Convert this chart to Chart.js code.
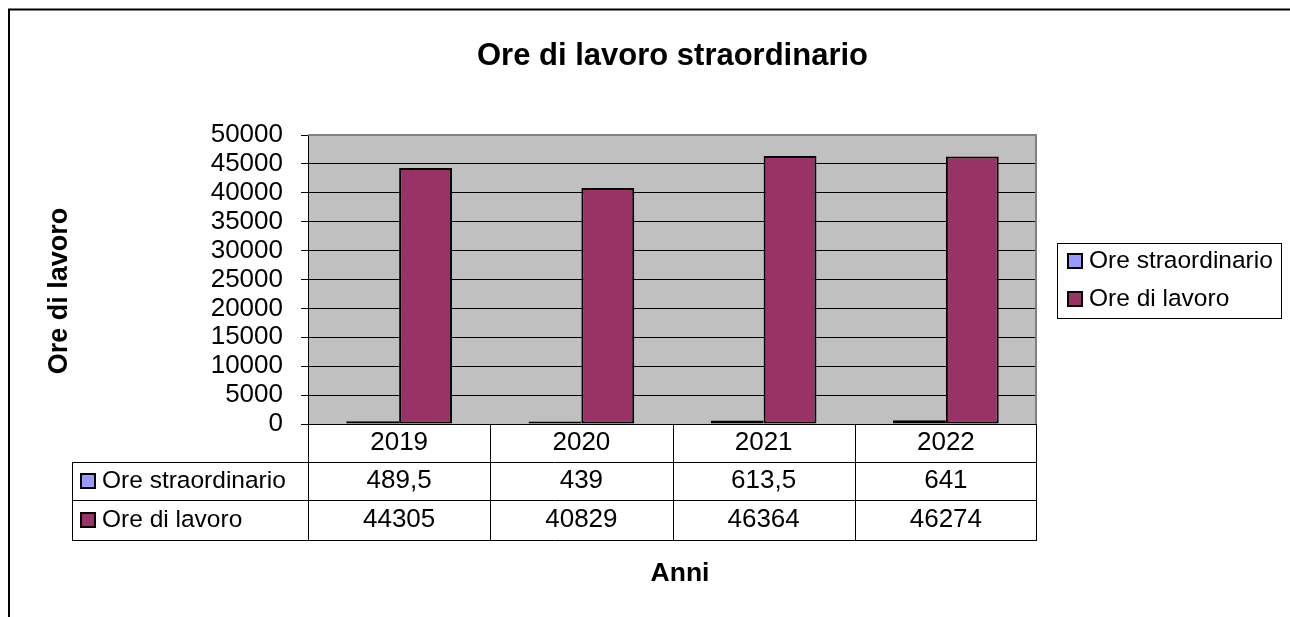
<!DOCTYPE html>
<html>
<head>
<meta charset="utf-8">
<script src="https://cdn.jsdelivr.net/npm/chart.js@4.4.0/dist/chart.umd.min.js"></script>
<style>
    body { margin: 0; background: #ffffff; }
    #grafico { display: block; }
</style>
</head>
<body>
<canvas id="grafico" width="1290" height="617"></canvas>
<script>
var anni = ["2019", "2020", "2021", "2022"];
var oreStraordinario = [489.5, 439, 613.5, 641];
var oreLavoro = [44305, 40829, 46364, 46274];

var nomiSerie = ["Ore straordinario", "Ore di lavoro"];
var coloriSerie = ["#9999FF", "#993366"];

var titolo = "Ore di lavoro straordinario";
var titoloY = "Ore di lavoro";
var titoloX = "Anni";

var FONT = "'Liberation Sans', Arial, sans-serif";

Chart.defaults.font.family = FONT;
Chart.defaults.color = "#000000";

function formatta(v) {
    return String(v).replace(".", ",");
}

// sfondo grigio dell'area del grafico
var sfondo = {
    id: "sfondo",
    beforeDraw: function (chart) {
        var ctx = chart.ctx;
        var a = chart.chartArea;
        ctx.save();
        ctx.fillStyle = "#C0C0C0";
        ctx.fillRect(a.left, a.top, a.right - a.left, a.bottom - a.top);
        ctx.restore();
    },
    beforeDatasetsDraw: function (chart) {
        var ctx = chart.ctx;
        var a = chart.chartArea;
        ctx.save();
        ctx.strokeStyle = "#808080";
        ctx.lineWidth = 2;
        ctx.beginPath();
        ctx.moveTo(a.left, a.top);
        ctx.lineTo(a.right - 1, a.top);
        ctx.lineTo(a.right - 1, a.bottom);
        ctx.stroke();
        ctx.restore();
    }
};

// titoli, legenda e tabella dati
var decorazioni = {
    id: "decorazioni",
    afterDraw: function (chart) {
        var ctx = chart.ctx;
        var a = chart.chartArea;
        var x = chart.scales.x;
        ctx.save();

        // cornice esterna
        ctx.strokeStyle = "#000000";
        ctx.lineWidth = 2;
        ctx.beginPath();
        ctx.moveTo(9, 617);
        ctx.lineTo(9, 9.5);
        ctx.lineTo(1290, 9.5);
        ctx.stroke();

        // titolo
        ctx.fillStyle = "#000000";
        ctx.font = "bold 31px " + FONT;
        ctx.textAlign = "center";
        ctx.textBaseline = "alphabetic";
        ctx.fillText(titolo, (a.left + a.right) / 2, 65);

        // titolo asse x
        ctx.font = "bold 26.5px " + FONT;
        ctx.fillText(titoloX, 680, 581);

        // titolo asse y
        ctx.save();
        ctx.translate(67, 291);
        ctx.rotate(-Math.PI / 2);
        ctx.font = "bold 27px " + FONT;
        ctx.fillText(titoloY, 0, 0);
        ctx.restore();

        // tabella dati
        var passo = (a.right - a.left) / anni.length;
        var righe = [424, 462, 500, 540];
        var sinistra = 72;
        ctx.strokeStyle = "#000000";
        ctx.lineWidth = 1;
        ctx.beginPath();
        for (var r = 1; r < righe.length; r++) {
            ctx.moveTo(sinistra, righe[r] + 0.5);
            ctx.lineTo(a.right, righe[r] + 0.5);
        }
        ctx.moveTo(sinistra + 0.5, righe[1]);
        ctx.lineTo(sinistra + 0.5, righe[3]);
        for (var i = 0; i <= anni.length; i++) {
            var xl = Math.round(x.getPixelForValue(i) - passo / 2) + 0.5;
            if (i === anni.length) {
                xl = Math.round(x.getPixelForValue(i - 1) + passo / 2) - 0.5;
            }
            ctx.moveTo(xl, righe[0]);
            ctx.lineTo(xl, righe[3]);
        }
        ctx.stroke();

        ctx.font = "26px " + FONT;
        ctx.textBaseline = "middle";
        ctx.textAlign = "center";
        var valori = [oreStraordinario, oreLavoro];
        for (var j = 0; j < anni.length; j++) {
            var cx = x.getPixelForValue(j);
            ctx.fillText(anni[j], cx, 443);
            ctx.fillText(formatta(valori[0][j]), cx, 481);
            ctx.fillText(formatta(valori[1][j]), cx, 520);
        }

        // etichette righe della tabella
        ctx.font = "24.5px " + FONT;
        ctx.textAlign = "left";
        var yRighe = [481, 520];
        for (var k = 0; k < nomiSerie.length; k++) {
            ctx.fillStyle = coloriSerie[k];
            ctx.fillRect(81, yRighe[k] - 7, 14, 14);
            ctx.strokeStyle = "#000000";
            ctx.lineWidth = 2;
            ctx.strokeRect(81, yRighe[k] - 7, 14, 14);
            ctx.fillStyle = "#000000";
            ctx.fillText(nomiSerie[k], 102, yRighe[k]);
        }

        // legenda
        ctx.lineWidth = 1;
        ctx.strokeStyle = "#000000";
        ctx.strokeRect(1057.5, 243.5, 224, 75);
        var yLegenda = [261, 299];
        for (var l = 0; l < nomiSerie.length; l++) {
            ctx.fillStyle = coloriSerie[l];
            ctx.fillRect(1068, yLegenda[l] - 7, 14, 14);
            ctx.lineWidth = 2;
            ctx.strokeRect(1068, yLegenda[l] - 7, 14, 14);
            ctx.fillStyle = "#000000";
            ctx.fillText(nomiSerie[l], 1089, yLegenda[l]);
        }

        ctx.restore();
    }
};

new Chart(document.getElementById("grafico"), {
    type: "bar",
    data: {
        labels: anni,
        datasets: [{
            label: nomiSerie[0],
            data: oreStraordinario,
            backgroundColor: coloriSerie[0],
            borderColor: "#000000",
            borderWidth: 2,
            borderSkipped: false
        },
        {
            label: nomiSerie[1],
            data: oreLavoro,
            backgroundColor: coloriSerie[1],
            borderColor: "#000000",
            borderWidth: 2,
            borderSkipped: false
        }]
    },
    options: {
        responsive: false,
        animation: false,
        layout: {
            padding: { left: 0, right: 253, top: 135, bottom: 193 }
        },
        datasets: {
            bar: {
                categoryPercentage: 0.58,
                barPercentage: 1.0
            }
        },
        scales: {
            x: {
                display: false
            },
            y: {
                min: 0,
                max: 50000,
                afterFit: function (scale) {
                    scale.width = 308;
                },
                ticks: {
                    stepSize: 5000,
                    autoSkip: false,
                    padding: 18,
                    color: "#000000",
                    font: { size: 26 },
                    callback: function (valore) {
                        return String(valore);
                    }
                },
                grid: {
                    color: function (c) {
                        return c.tick && c.tick.value === 50000 ? "rgba(0,0,0,0)" : "#000000";
                    },
                    tickColor: "#000000",
                    tickLength: 7,
                    lineWidth: 1
                },
                border: {
                    display: true,
                    color: "#000000",
                    width: 1
                }
            }
        },
        plugins: {
            legend: { display: false },
            title: { display: false },
            tooltip: { enabled: false }
        }
    },
    plugins: [sfondo, decorazioni]
});
</script>
</body>
</html>
